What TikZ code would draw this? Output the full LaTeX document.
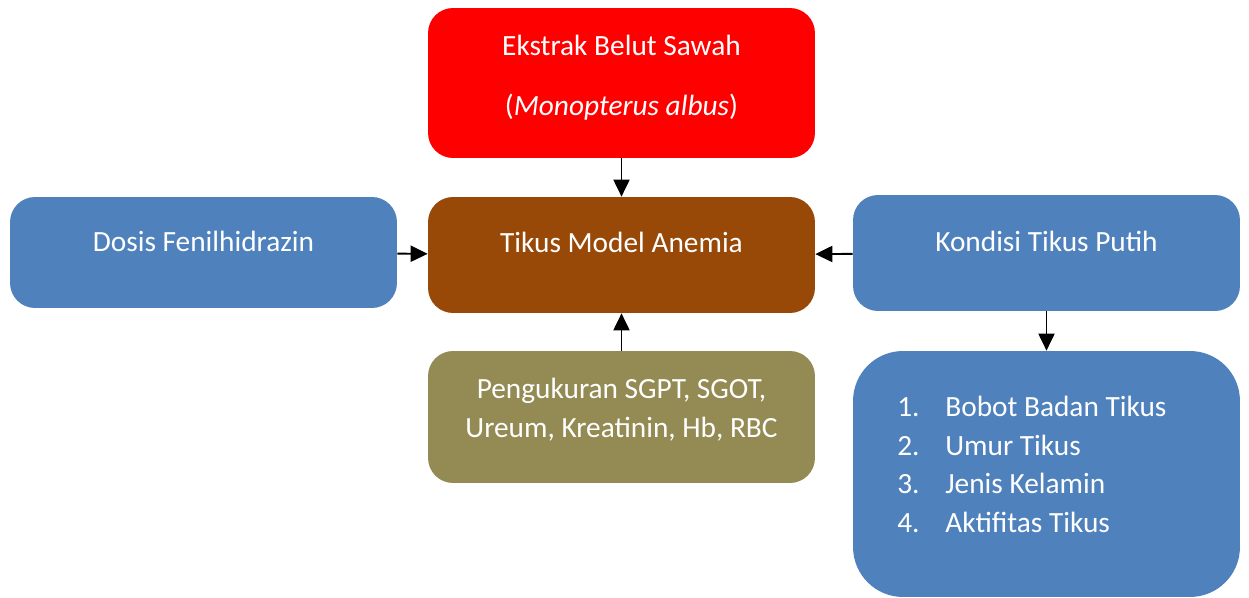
\documentclass[tikz,border=0pt]{standalone}
\usepackage{fontspec}
\setmainfont{Carlito}
\usetikzlibrary{arrows.meta}
\definecolor{redbox}{HTML}{FF0000}
\definecolor{brownbox}{HTML}{984807}
\definecolor{bluebox}{HTML}{4F81BD}
\definecolor{olivebox}{HTML}{948A54}
\begin{document}
\begin{tikzpicture}[x=0.02cm, y=-0.02cm,
		box/.style={rectangle, rounded corners=0.5cm, minimum width=7.74cm, inner sep=0pt},
		txt/.style={text=white, anchor=base, inner sep=0pt, font=\fontsize{16.7}{21.9}\selectfont},
		arr/.style={-{Triangle[length=0.34cm, width=0.32cm]}, line width=1.1pt}]
		\useasboundingbox (0,0) rectangle (1249,598);
		\node [box, fill=redbox, minimum height=3cm] (ekstrak) at ( 621.5, 83 ) {};
		\node [box, fill=brownbox, minimum height=2.32cm] (model) at ( 621.5, 255 ) {};
		\node [box, fill=bluebox, minimum height=2.22cm] (dosis) at ( 203.5, 252.5 ) {};
		\node [box, fill=bluebox, minimum height=2.32cm] (kondisi) at ( 1046.5, 253 ) {};
		\node [box, fill=olivebox, minimum height=2.64cm] (ukur) at ( 621.5, 417 ) {};
		\node [box, fill=bluebox, minimum height=4.92cm, rounded corners=1cm] (faktor) at ( 1046.5, 474 ) {};
		\node [txt] (ekstrakA) at ( 621.5, 56 ) {Ekstrak Belut Sawah};
		\node [txt] (ekstrakB) at ( 621.5, 116 ) {(\textit{Monopterus albus})};
		\node [txt] (modelT) at ( 621.5, 253 ) {Tikus Model Anemia};
		\node [txt] (dosisT) at ( 203.5, 252 ) {Dosis Fenilhidrazin};
		\node [txt] (kondisiT) at ( 1046.5, 252 ) {Kondisi Tikus Putih};
		\node [txt, align=center] (ukurT) at ( 621.5, 437 ) {Pengukuran SGPT, SGOT,\\Ureum, Kreatinin, Hb, RBC};
		\node [txt, align=left, anchor=base west] (faktorT) at ( 897, 532 ) {\makebox[0.96cm][l]{1.}Bobot Badan Tikus\\\makebox[0.96cm][l]{2.}Umur Tikus\\\makebox[0.96cm][l]{3.}Jenis Kelamin\\\makebox[0.96cm][l]{4.}Aktifitas Tikus};
		\draw [arr] (ekstrak) -- (model);
		\draw [arr] (ukur) -- (model);
		\draw [arr] (dosis) -- (model);
		\draw [arr] (kondisi) -- (model);
		\draw [arr] (kondisi) -- (faktor);
	\end{tikzpicture}
\end{document}
